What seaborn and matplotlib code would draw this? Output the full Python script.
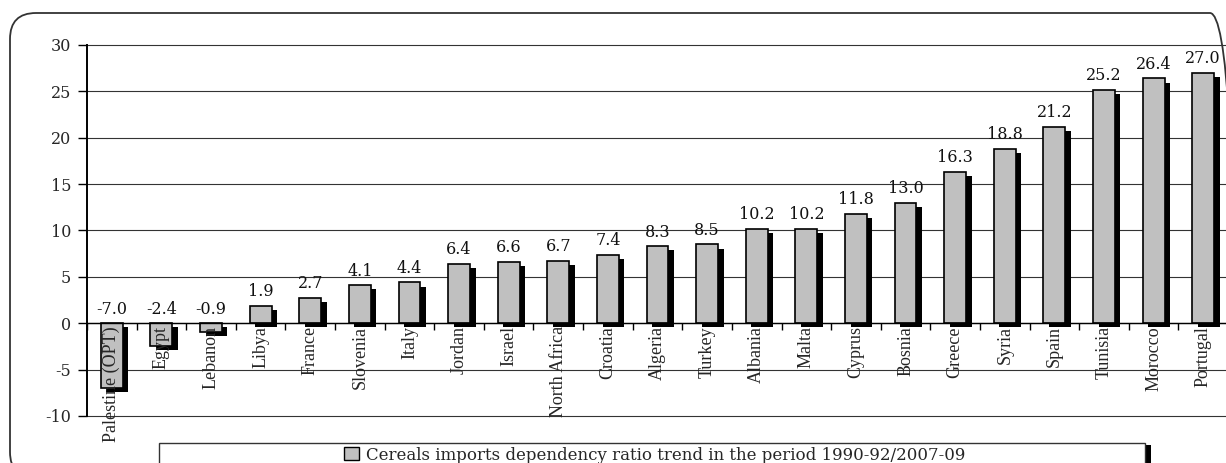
import numpy as np
import pandas as pd
import matplotlib
matplotlib.use("Agg")
import matplotlib.pyplot as plt
import matplotlib.patheffects as pe
from matplotlib.patches import Patch, Rectangle, FancyBboxPatch
from matplotlib.transforms import IdentityTransform
import seaborn as sns

# Cereals imports dependency ratio trend, 1990-92 to 2007-09 (percentage points)
countries = ["Palestine (OPT)", "Egypt", "Lebanon", "Libya", "France", "Slovenia",
             "Italy", "Jordan", "Israel", "North Africa", "Croatia", "Algeria",
             "Turkey", "Albania", "Malta", "Cyprus", "Bosnia", "Greece", "Syria",
             "Spain", "Tunisia", "Morocco", "Portugal"]
ratios = [-7.0, -2.4, -0.9, 1.9, 2.7, 4.1, 4.4, 6.4, 6.6, 6.7, 7.4, 8.3, 8.5,
          10.2, 10.2, 11.8, 13.0, 16.3, 18.8, 21.2, 25.2, 26.4, 27.0]
y_ticks = [-10, -5, 0, 5, 10, 15, 20, 25, 30]
legend_label = "Cereals imports dependency ratio trend in the period 1990-92/2007-09"

BAR_GRAY = "#C0C0C0"
W, H = 1226, 463

sns.set_style("white")
plt.rcParams["font.family"] = ["DejaVu Serif"]
plt.rcParams["axes.unicode_minus"] = False

fig = plt.figure(figsize=(W / 100, H / 100), dpi=100)
ax = fig.add_axes([87 / W, 1 - 416 / H, (1228 - 87) / W, 371 / H])

df = pd.DataFrame({"country": countries, "ratio": ratios})
sns.barplot(data=df, x="country", y="ratio", color=BAR_GRAY, saturation=1,
            edgecolor="black", linewidth=1.2, width=0.44, ax=ax, zorder=2)

# solid black drop shadow behind each bar
for bar in ax.patches:
    bar.set_path_effects([pe.withSimplePatchShadow(offset=(4, -3),
                                                   shadow_rgbFace="black",
                                                   alpha=1.0)])

# horizontal reference lines behind the bars
for t in y_ticks:
    ax.axhline(t, color="#333333", linewidth=0.8, zorder=0.8, clip_on=False)

# value labels above the bar (or above the zero line for negative values)
for i, v in enumerate(ratios):
    ax.annotate(f"{v:.1f}", xy=(i, max(v, 0)), xytext=(0, 7),
                textcoords="offset points", ha="center", va="baseline",
                fontsize=11.5, family="DejaVu Serif", color="#111111", zorder=5)

ax.set_ylim(-10, 30)
ax.set_xlim(-0.5, len(countries) - 0.5)
ax.set_yticks(y_ticks)
ax.set_yticklabels([str(t) for t in y_ticks], fontsize=11.5)
ax.grid(False)
ax.set_axisbelow(False)

for side in ("top", "right"):
    ax.spines[side].set_visible(False)
ax.spines["left"].set_linewidth(1.4)
ax.spines["left"].set_color("black")
ax.spines["bottom"].set_position(("data", 0))
ax.spines["bottom"].set_linewidth(1.0)
ax.spines["bottom"].set_color("black")

ax.set_xticks(range(len(countries)))
ax.set_xticklabels(countries, rotation=90, family="Liberation Serif", fontsize=13)
ax.set_xticks(np.arange(-0.5, len(countries), 1), minor=True)
ax.tick_params(axis="x", which="major", length=0, pad=2)
ax.tick_params(axis="x", which="minor", length=5, width=1, direction="out",
               color="black", bottom=True)
ax.tick_params(axis="y", length=6.5, width=1, direction="out", color="black",
               pad=5, left=True)
ax.set_xlabel("")
ax.set_ylabel("")

# outer rounded frame
frame = FancyBboxPatch((10, -15), 1226, 465,
                       boxstyle="round,pad=0,rounding_size=26",
                       transform=IdentityTransform(), facecolor="none",
                       edgecolor="#333333", linewidth=1.3, zorder=1)
fig.add_artist(frame)

# legend box with shadow
box_x0, box_x1, box_top = 159, 1145, 443
shadow = Rectangle((box_x0 + 6, -20), box_x1 - box_x0, (H - box_top) + 20 - 2,
                   transform=IdentityTransform(), facecolor="black",
                   edgecolor="none", zorder=3)
box = Rectangle((box_x0, -20), box_x1 - box_x0, (H - box_top) + 20,
                transform=IdentityTransform(), facecolor="white",
                edgecolor="#333333", linewidth=1.0, zorder=4)
fig.add_artist(shadow)
fig.add_artist(box)

handle = Patch(facecolor=BAR_GRAY, edgecolor="black", linewidth=1.0)
leg = fig.legend(handles=[handle], labels=[legend_label], loc="center",
                 bbox_to_anchor=(655 / W, 1 - 455 / H), frameon=False,
                 prop={"family": "DejaVu Serif", "size": 12},
                 handlelength=0.9, handleheight=0.8, handletextpad=0.4,
                 borderpad=0, borderaxespad=0)
leg.set_zorder(6)

fig.savefig("out.png", dpi=100)
